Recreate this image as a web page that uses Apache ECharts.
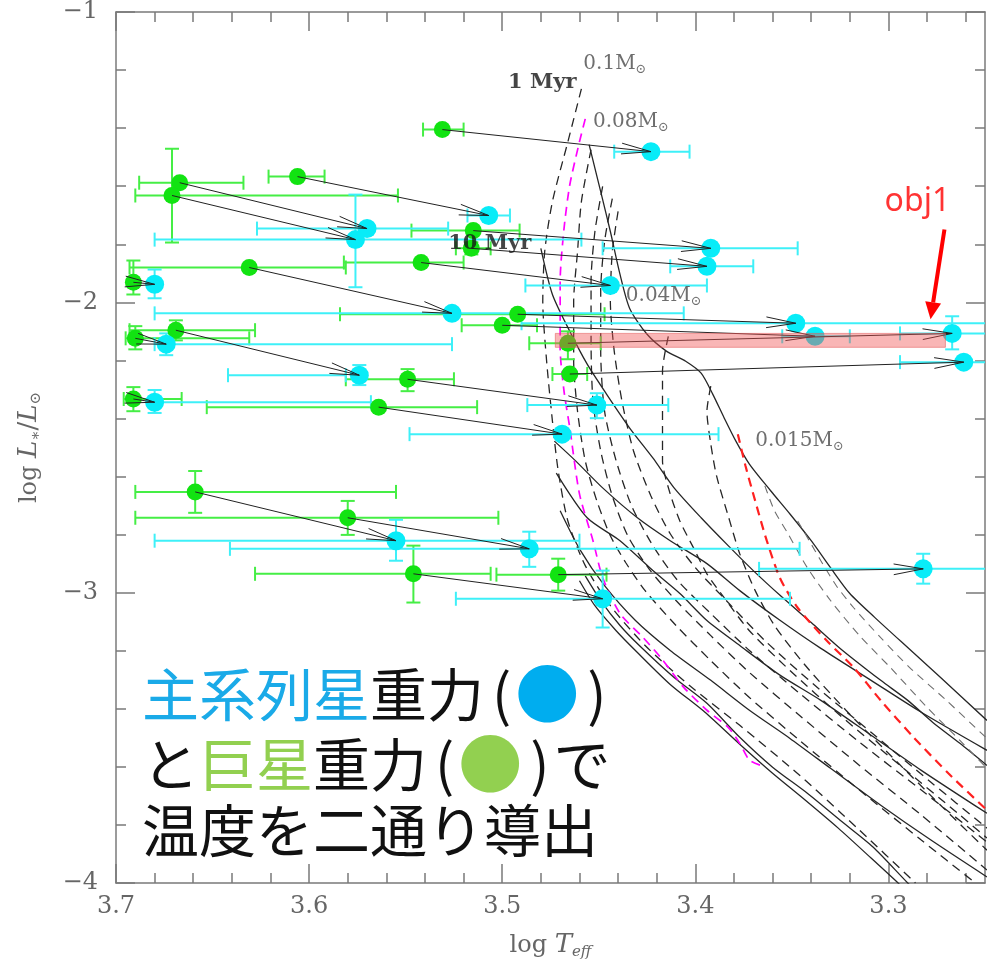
<!DOCTYPE html>
<html><head><meta charset="utf-8">
<script src="https://cdn.jsdelivr.net/npm/echarts@6/dist/echarts.min.js"></script>
<style>html,body{margin:0;padding:0;background:#fff}#c{width:987px;height:969px}</style>
</head><body><div id="c"></div>
<script>
// ---------- axis ticks ----------
const xMajorTicks = [3.7, 3.6, 3.5, 3.4, 3.3];
const xMinorTicks = [3.68,3.66,3.64,3.62,3.58,3.56,3.54,3.52,3.48,3.46,3.44,3.42,3.38,3.36,3.34,3.32,3.28,3.26];
const yMajorTicks = [-1, -2, -3, -4];

// ---------- observed objects: giant-gravity fit (green) ----------
const giantLogT = [3.531,3.606,3.667,3.671,3.515,3.516,3.542,3.631,3.691,3.492,3.500,3.466,3.465,3.690,3.669,3.549,3.691,3.564,3.659,3.580,3.546,3.471];
const giantLogL = [-1.405,-1.567,-1.588,-1.632,-1.753,-1.814,-1.863,-1.880,-1.931,-2.041,-2.079,-2.141,-2.247,-2.124,-2.096,-2.265,-2.333,-2.361,-2.653,-2.742,-2.935,-2.938];
const giantTErr = [[3.541,3.520],[3.621,3.592],[3.688,3.634],[3.690,3.554],[3.547,3.491],[3.524,3.506],[3.582,3.520],[3.693,3.581],null,[3.584,3.447],[3.521,3.482],[3.486,3.449],[3.474,3.456],[3.695,3.631],[3.693,3.628],[3.581,3.525],[3.696,3.666],[3.653,3.513],[3.690,3.555],[3.690,3.502],[3.628,3.506],[3.503,3.446]];
const giantLErr = [null,null,null,[-1.471,-1.794],null,[-1.793,-1.835],null,null,[-1.856,-1.973],null,null,[-2.100,-2.196],null,[-2.082,-2.162],[-2.062,-2.131],[-2.230,-2.306],[-2.292,-2.375],null,[-2.581,-2.725],[-2.684,-2.801],[-2.838,-3.034],[-2.883,-2.993]];

// ---------- same objects: main-sequence-gravity fit (cyan) ----------
const dwarfLogT = [3.423,3.507,3.570,3.576,3.392,3.394,3.444,3.526,3.680,3.348,3.338,3.267,3.261,3.674,3.574,3.451,3.680,3.469,3.555,3.486,3.448,3.282];
const dwarfLogL = [-1.481,-1.701,-1.746,-1.784,-1.814,-1.876,-1.942,-2.038,-1.938,-2.072,-2.117,-2.107,-2.206,-2.144,-2.251,-2.354,-2.344,-2.454,-2.821,-2.849,-3.021,-2.918];
const dwarfTErr = [[3.442,3.403],[3.518,3.496],[3.627,3.528],[3.680,3.459],[3.448,3.347],[3.413,3.370],[3.488,3.394],[3.680,3.406],null,[3.490,3.2],[3.355,3.320],[3.294,3.2],[3.294,3.2],[3.680,3.526],[3.642,3.581],[3.487,3.414],[3.682,3.568],[3.548,3.388],[3.680,3.460],[3.641,3.346],[3.524,3.351],[3.367,3.2]];
const dwarfLErr = [null,null,null,[-1.629,-1.948],null,null,null,null,[-1.887,-1.986],null,null,[-2.048,-2.162],null,[-2.107,-2.182],[-2.216,-2.285],[-2.313,-2.399],[-2.302,-2.381],null,[-2.749,-2.890],[-2.790,-2.911],[-2.924,-3.120],[-2.866,-2.969]];

// ---------- model isochrones (solid) ----------
const iso1Myr = [[3.455,-1.457],[3.449,-1.619],[3.444,-1.756],[3.439,-1.904],[3.434,-2.021],[3.425,-2.110],[3.415,-2.168],[3.405,-2.203],[3.397,-2.244],[3.391,-2.316],[3.385,-2.399],[3.379,-2.478],[3.372,-2.557],[3.361,-2.649],[3.351,-2.729],[3.340,-2.821],[3.330,-2.914],[3.320,-3.003],[3.307,-3.086],[3.294,-3.165],[3.273,-3.292],[3.249,-3.440]];
const iso10Myr = [[3.480,-1.814],[3.474,-1.973],[3.465,-2.100],[3.456,-2.213],[3.446,-2.316],[3.434,-2.433],[3.422,-2.536],[3.411,-2.639],[3.397,-2.742],[3.383,-2.838],[3.370,-2.924],[3.356,-3.010],[3.340,-3.103],[3.325,-3.192],[3.304,-3.302],[3.290,-3.371],[3.277,-3.447],[3.263,-3.519],[3.249,-3.595]];
const isoC = [[3.473,-2.478],[3.462,-2.546],[3.448,-2.639],[3.430,-2.742],[3.413,-2.821],[3.394,-2.900],[3.377,-2.993],[3.356,-3.096],[3.335,-3.192],[3.309,-3.302],[3.283,-3.412],[3.249,-3.543]];
const isoD = [[3.472,-2.588],[3.456,-2.742],[3.439,-2.821],[3.422,-2.924],[3.408,-3.003],[3.394,-3.096],[3.377,-3.182],[3.356,-3.285],[3.335,-3.371],[3.309,-3.491],[3.283,-3.612],[3.249,-3.760]];
const isoE = [[3.470,-2.718],[3.460,-2.849],[3.447,-2.976],[3.431,-3.096],[3.413,-3.199],[3.392,-3.302],[3.372,-3.405],[3.351,-3.502],[3.330,-3.605],[3.304,-3.732],[3.278,-3.852],[3.249,-3.979]];
const isoF = [[3.457,-2.942],[3.449,-3.027],[3.439,-3.113],[3.429,-3.182],[3.411,-3.292],[3.394,-3.381],[3.377,-3.498],[3.360,-3.601],[3.342,-3.691],[3.325,-3.784],[3.308,-3.876],[3.290,-4.000],[3.286,-4.024]];
const isoG = [[3.460,-2.959],[3.452,-3.045],[3.441,-3.131],[3.430,-3.206],[3.413,-3.316],[3.395,-3.412],[3.377,-3.522],[3.360,-3.622],[3.343,-3.715],[3.326,-3.811],[3.309,-3.914],[3.295,-4.000],[3.291,-4.027]];

// ---------- model mass tracks (dashed) ----------
const track010 = [[3.459,-1.265],[3.466,-1.447],[3.474,-1.653],[3.478,-1.825],[3.479,-1.997],[3.477,-2.203],[3.474,-2.409],[3.471,-2.581],[3.466,-2.753],[3.457,-2.907],[3.444,-3.045],[3.426,-3.182],[3.403,-3.320],[3.377,-3.457],[3.346,-3.629],[3.315,-3.818],[3.286,-4.000]];
const track008 = [[3.457,-1.368],[3.460,-1.447],[3.465,-1.595],[3.468,-1.746],[3.470,-1.928],[3.470,-2.158],[3.468,-2.306],[3.465,-2.433],[3.460,-2.660],[3.453,-2.821],[3.448,-2.948],[3.439,-3.072],[3.427,-3.155],[3.418,-3.223],[3.406,-3.326],[3.394,-3.405],[3.383,-3.464],[3.377,-3.519],[3.372,-3.577],[3.366,-3.595]];
const track007 = [[3.454,-1.474],[3.459,-1.653],[3.461,-1.825],[3.463,-1.997],[3.463,-2.203],[3.461,-2.375],[3.457,-2.546],[3.451,-2.684],[3.444,-2.804],[3.436,-2.897],[3.426,-2.993],[3.410,-3.113],[3.392,-3.234],[3.372,-3.361],[3.346,-3.509],[3.315,-3.680],[3.283,-3.852],[3.255,-4.000]];
const track006 = [[3.448,-1.601],[3.452,-1.756],[3.454,-1.928],[3.454,-2.134],[3.453,-2.340],[3.449,-2.512],[3.443,-2.667],[3.435,-2.804],[3.424,-2.918],[3.410,-3.027],[3.392,-3.148],[3.372,-3.275],[3.346,-3.423],[3.315,-3.595],[3.283,-3.766],[3.249,-3.955]];
const track005 = [[3.443,-1.643],[3.447,-1.790],[3.449,-1.962],[3.449,-2.168],[3.447,-2.375],[3.441,-2.546],[3.433,-2.701],[3.422,-2.838],[3.409,-2.959],[3.392,-3.072],[3.372,-3.199],[3.346,-3.347],[3.315,-3.515],[3.283,-3.680],[3.249,-3.859]];
const track004 = [[3.440,-1.687],[3.443,-1.825],[3.444,-1.997],[3.442,-2.168],[3.438,-2.340],[3.432,-2.512],[3.423,-2.667],[3.413,-2.797],[3.400,-2.914],[3.384,-3.027],[3.364,-3.165],[3.338,-3.320],[3.309,-3.481],[3.278,-3.653],[3.249,-3.811]];
const track003 = [[3.414,-2.117],[3.417,-2.237],[3.417,-2.433],[3.417,-2.546],[3.413,-2.660],[3.408,-2.753],[3.401,-2.845],[3.394,-2.935],[3.384,-3.027],[3.372,-3.131],[3.351,-3.268],[3.325,-3.423],[3.294,-3.595],[3.263,-3.766],[3.249,-3.845]];
const track002 = [[3.392,-2.289],[3.394,-2.375],[3.392,-2.488],[3.389,-2.598],[3.383,-2.735],[3.377,-2.866],[3.369,-2.993],[3.359,-3.113],[3.343,-3.251],[3.322,-3.405],[3.299,-3.560],[3.273,-3.732],[3.249,-3.887]];
const track0015 = [[3.378,-2.454],[3.374,-2.564],[3.369,-2.684],[3.363,-2.821],[3.356,-2.952],[3.347,-3.052],[3.332,-3.165],[3.318,-3.258],[3.304,-3.371],[3.287,-3.498],[3.269,-3.622],[3.249,-3.749]];
const track0012 = [[3.364,-2.632],[3.359,-2.718],[3.352,-2.797],[3.342,-2.914],[3.330,-3.027],[3.315,-3.148],[3.299,-3.258],[3.281,-3.388],[3.263,-3.509],[3.249,-3.605]];
const track0010 = [[3.347,-2.753],[3.341,-2.821],[3.335,-2.890],[3.327,-2.976],[3.318,-3.052],[3.304,-3.155],[3.289,-3.258],[3.270,-3.371],[3.249,-3.502]];

// ---------- model labels ----------
const modelLabelText = ['0.1M⊙', '0.08M⊙', '0.04M⊙', '0.015M⊙'];
const modelLabelT = [3.458, 3.453, 3.436, 3.369];
const modelLabelL = [-1.179, -1.378, -1.976, -2.478];
const ageLabelText = ['1 Myr', '10 Myr'];
const ageLabelT = [3.497, 3.528];
const ageLabelL = [-1.244, -1.797];

// ---------- annotations ----------
const objName = 'obj1';
const objLabelPos = [3.285, -1.653];
const objArrow = [3.271, -1.749, 3.2782, -2.058];
const highlightBand = [3.4725, -2.107, 3.2705, -2.155];
const jpLine1 = ['主系列星', '重力', '(', '●', ')'];
const jpLine2 = ['と', '巨星', '重力', '(', '●', ')', 'で'];
const jpLine3 = '温度を二通り導出';

// ======================================================
const GREEN = '#12e312', GREEN_BAR = '#45ee45';
const CYAN = '#08ecf8', CYAN_BAR = '#3ef0f8';
const AX = '#7a7a7a';
const SERIF = 'DejaVu Serif';

function errData(T, L, TE, LE) {
  return T.map((t, i) => [t, L[i],
    TE[i] ? TE[i][0] : NaN, TE[i] ? TE[i][1] : NaN,
    LE[i] ? LE[i][0] : NaN, LE[i] ? LE[i][1] : NaN]);
}
function errRender(params, api) {
  const y = api.value(1), x = api.value(0);
  const t0 = api.value(2), t1 = api.value(3), l0 = api.value(4), l1 = api.value(5);
  const st = { stroke: api.visual('color'), lineWidth: 2 };
  const cap = 7, ch = [];
  if (!isNaN(t0) && !isNaN(t1)) {
    const a = api.coord([t0, y]), b = api.coord([t1, y]);
    ch.push({ type: 'line', shape: { x1: a[0], y1: a[1], x2: b[0], y2: b[1] }, style: st });
    ch.push({ type: 'line', shape: { x1: a[0], y1: a[1] - cap, x2: a[0], y2: a[1] + cap }, style: st });
    ch.push({ type: 'line', shape: { x1: b[0], y1: b[1] - cap, x2: b[0], y2: b[1] + cap }, style: st });
  }
  if (!isNaN(l0) && !isNaN(l1)) {
    const a = api.coord([x, l0]), b = api.coord([x, l1]);
    ch.push({ type: 'line', shape: { x1: a[0], y1: a[1], x2: b[0], y2: b[1] }, style: st });
    ch.push({ type: 'line', shape: { x1: a[0] - cap, y1: a[1], x2: a[0] + cap, y2: a[1] }, style: st });
    ch.push({ type: 'line', shape: { x1: b[0] - cap, y1: b[1], x2: b[0] + cap, y2: b[1] }, style: st });
  }
  return { type: 'group', children: ch };
}
function arrowRender(params, api) {
  const p0 = api.coord([api.value(0), api.value(1)]);
  const p1 = api.coord([api.value(2), api.value(3)]);
  const ang = Math.atan2(p1[1] - p0[1], p1[0] - p0[0]);
  const L = 30, h = 0.18;
  const a1 = [p1[0] - L * Math.cos(ang - h), p1[1] - L * Math.sin(ang - h)];
  const a2 = [p1[0] - L * Math.cos(ang + h), p1[1] - L * Math.sin(ang + h)];
  const st = { stroke: '#222', lineWidth: 1, fill: null };
  return { type: 'group', children: [
    { type: 'line', shape: { x1: p0[0], y1: p0[1], x2: p1[0], y2: p1[1] }, style: st },
    { type: 'polyline', shape: { points: [a1, p1, a2] }, style: st }
  ] };
}

function xAxisDef(pos, major, labels) {
  return {
    type: 'value', position: pos, min: 3.25, max: 3.7, inverse: true,
    axisLine: { show: major, onZero: false, lineStyle: { color: AX, width: 1.5 } },
    axisTick: { show: true, inside: true, length: major ? 19 : 10,
      customValues: major ? xMajorTicks : xMinorTicks, lineStyle: { color: AX, width: 1.5 } },
    axisLabel: { show: labels, customValues: xMajorTicks, margin: 12,
      formatter: v => Number(v).toFixed(1), fontFamily: SERIF, fontSize: 24, color: '#666' },
    splitLine: { show: false },
    name: labels ? 'log {i|T}{s|eff}' : '', nameLocation: 'middle', nameGap: 48,
    nameTextStyle: { fontFamily: SERIF, fontSize: 24, color: '#666',
      rich: { i: { fontFamily: SERIF, fontStyle: 'italic', fontSize: 26, color: '#666' },
              s: { fontFamily: SERIF, fontStyle: 'italic', fontSize: 15, color: '#666', padding: [14, 0, 0, 0] } } }
  };
}
function yAxisDef(pos, labels) {
  return {
    type: 'value', position: pos, min: -4, max: -1, interval: 1,
    axisLine: { show: true, onZero: false, lineStyle: { color: AX, width: 1.5 } },
    axisTick: { show: true, inside: true, length: 19, lineStyle: { color: AX, width: 1.5 } },
    minorTick: { show: true, splitNumber: 5, length: 10, lineStyle: { color: AX, width: 1.5 } },
    axisLabel: { show: labels, margin: 18, formatter: v => '−' + Math.abs(v),
      fontFamily: SERIF, fontSize: 24, color: '#666' },
    splitLine: { show: false },
    name: labels ? 'log {i|L}{s|∗}{n|/}{i|L}{s|⊙}' : '', nameLocation: 'middle', nameGap: 72, nameRotate: 90,
    nameTextStyle: { fontFamily: SERIF, fontSize: 24, color: '#666',
      rich: { i: { fontFamily: SERIF, fontStyle: 'italic', fontSize: 26, color: '#666' },
              n: { fontFamily: SERIF, fontSize: 26, color: '#666' },
              s: { fontFamily: SERIF, fontSize: 15, color: '#666', padding: [14, 0, 0, 0] } } }
  };
}

function lineSeries(data, color, width, type, z) {
  return { type: 'line', data: data, showSymbol: false, symbol: 'none', smooth: 0.25, z: z,
    silent: true, clip: true, lineStyle: { color: color, width: width, type: type } };
}

const series = [];
[iso1Myr, iso10Myr, isoC, isoD, isoE, isoF, isoG].forEach(d => series.push(lineSeries(d, '#262626', 1.3, 'solid', 2)));
[track010, track007, track006, track005, track004, track003, track002].forEach(d => series.push(lineSeries(d, '#262626', 1.3, [9, 6], 2)));
[track0012, track0010].forEach(d => series.push(lineSeries(d, '#6e6e6e', 1.1, [8, 6], 2)));
series.push(lineSeries(track008, '#ff00ff', 1.7, [9, 6], 2));
series.push(lineSeries(track0015, '#ff2020', 2.2, [9, 6], 2));

series.push({ type: 'custom', renderItem: errRender, data: errData(giantLogT, giantLogL, giantTErr, giantLErr),
  encode: { x: 0, y: 1 }, itemStyle: { color: GREEN_BAR }, z: 3, clip: true, silent: true });
series.push({ type: 'custom', renderItem: errRender, data: errData(dwarfLogT, dwarfLogL, dwarfTErr, dwarfLErr),
  encode: { x: 0, y: 1 }, itemStyle: { color: CYAN_BAR }, z: 3, clip: true, silent: true });
series.push({ type: 'scatter', data: giantLogT.map((t, i) => [t, giantLogL[i]]), symbolSize: 17,
  itemStyle: { color: GREEN, opacity: 1 }, z: 4, silent: true });
series.push({ type: 'scatter', data: dwarfLogT.map((t, i) => [t, dwarfLogL[i]]), symbolSize: 19,
  itemStyle: { color: CYAN, opacity: 1 }, z: 4, silent: true });
series.push({ type: 'custom', renderItem: arrowRender,
  data: giantLogT.map((t, i) => [t, giantLogL[i], dwarfLogT[i], dwarfLogL[i]]),
  encode: { x: [0, 2], y: [1, 3] }, z: 5, clip: true, silent: true });

// highlight band for obj1
series.push({ type: 'custom', z: 6, silent: true, clip: true, data: [highlightBand], encode: { x: [0, 2], y: [1, 3] },
  renderItem: (p, api) => {
    const a = api.coord([api.value(0), api.value(1)]), b = api.coord([api.value(2), api.value(3)]);
    return { type: 'rect', shape: { x: a[0], y: a[1], width: b[0] - a[0], height: b[1] - a[1] },
      style: { fill: 'rgba(240,80,80,0.42)', stroke: 'rgba(230,90,90,0.55)', lineWidth: 1 } };
  } });
// red pointer arrow for obj1
series.push({ type: 'custom', z: 7, silent: true, data: [objArrow], encode: { x: [0, 2], y: [1, 3] },
  renderItem: (p, api) => {
    const a = api.coord([api.value(0), api.value(1)]), b = api.coord([api.value(2), api.value(3)]);
    const ang = Math.atan2(b[1] - a[1], b[0] - a[0]);
    const L = 17, W = 8;
    const base = [b[0] - L * Math.cos(ang), b[1] - L * Math.sin(ang)];
    const px = -Math.sin(ang) * W, py = Math.cos(ang) * W;
    return { type: 'group', children: [
      { type: 'line', shape: { x1: a[0], y1: a[1], x2: base[0], y2: base[1] }, style: { stroke: '#ff0000', lineWidth: 4 } },
      { type: 'polygon', shape: { points: [b, [base[0] + px, base[1] + py], [base[0] - px, base[1] - py]] }, style: { fill: '#ff0000' } }
    ] };
  } });

// text labels
series.push({ type: 'scatter', z: 8, silent: true, symbolSize: 0,
  data: modelLabelText.map((s, i) => ({ value: [modelLabelT[i], modelLabelL[i]], name: s })),
  label: { show: true, position: [0, 0], align: 'left', verticalAlign: 'middle',
    formatter: p => p.name.replace('M⊙', 'M{s|⊙}'),
    fontFamily: SERIF, fontSize: 20, color: '#4a4a4a',
    rich: { s: { fontFamily: SERIF, fontSize: 13, color: '#4a4a4a', padding: [12, 0, 0, 0] } } } });
series.push({ type: 'scatter', z: 8, silent: true, symbolSize: 0,
  data: ageLabelText.map((s, i) => ({ value: [ageLabelT[i], ageLabelL[i]], name: s })),
  label: { show: true, position: [0, 0], align: 'left', verticalAlign: 'middle', formatter: p => p.name,
    fontFamily: SERIF, fontSize: 21, fontWeight: 'bold', color: '#161616' } });
series.push({ type: 'scatter', z: 8, silent: true, symbolSize: 0,
  data: [{ value: objLabelPos, name: objName }],
  label: { show: true, position: [0, 0], align: 'center', verticalAlign: 'middle', formatter: p => p.name,
    fontFamily: 'Noto Sans', fontSize: 32, color: '#ff0000' } });

const JP = 'Noto Sans CJK JP';
const jpRich = {
  k: { fontFamily: JP, fontSize: 57, fill: '#111111', lineHeight: 64 },
  b: { fontFamily: JP, fontSize: 57, fill: '#1aaae8', lineHeight: 64 },
  g: { fontFamily: JP, fontSize: 57, fill: '#92d050', lineHeight: 64 },
  p: { fontFamily: JP, fontSize: 57, fill: '#111111', lineHeight: 64, padding: [0, 4, 0, 8] },
  bc: { fontFamily: JP, fontSize: 64, fill: '#00adef', lineHeight: 64 },
  gc: { fontFamily: JP, fontSize: 64, fill: '#92d050', lineHeight: 64 }
};
const tok = (k, s) => '{' + k + '|' + s + '}';

const option = {
  animation: false,
  backgroundColor: '#fff',
  grid: { left: 116, top: 10, width: 869, height: 873, containLabel: false },
  xAxis: [xAxisDef('bottom', true, true), xAxisDef('bottom', false, false), xAxisDef('top', true, false), xAxisDef('top', false, false)],
  yAxis: [yAxisDef('left', true), yAxisDef('right', false)],
  series: series,
  graphic: [
    { type: 'text', left: 142, top: 662, z: 100,
      style: { text: tok('b', jpLine1[0]) + tok('k', jpLine1[1]) + tok('p', jpLine1[2]) + tok('bc', jpLine1[3]) + tok('p', jpLine1[4]), rich: jpRich } },
    { type: 'text', left: 142, top: 732, z: 100,
      style: { text: tok('k', jpLine2[0]) + tok('g', jpLine2[1]) + tok('k', jpLine2[2]) + tok('p', jpLine2[3]) + tok('gc', jpLine2[4]) + tok('p', jpLine2[5]) + tok('k', jpLine2[6]), rich: jpRich } },
    { type: 'text', left: 142, top: 802, z: 100,
      style: { text: tok('k', jpLine3), rich: jpRich } }
  ]
};
const chart = echarts.init(document.getElementById('c'));
chart.setOption(option);
</script></body></html>
